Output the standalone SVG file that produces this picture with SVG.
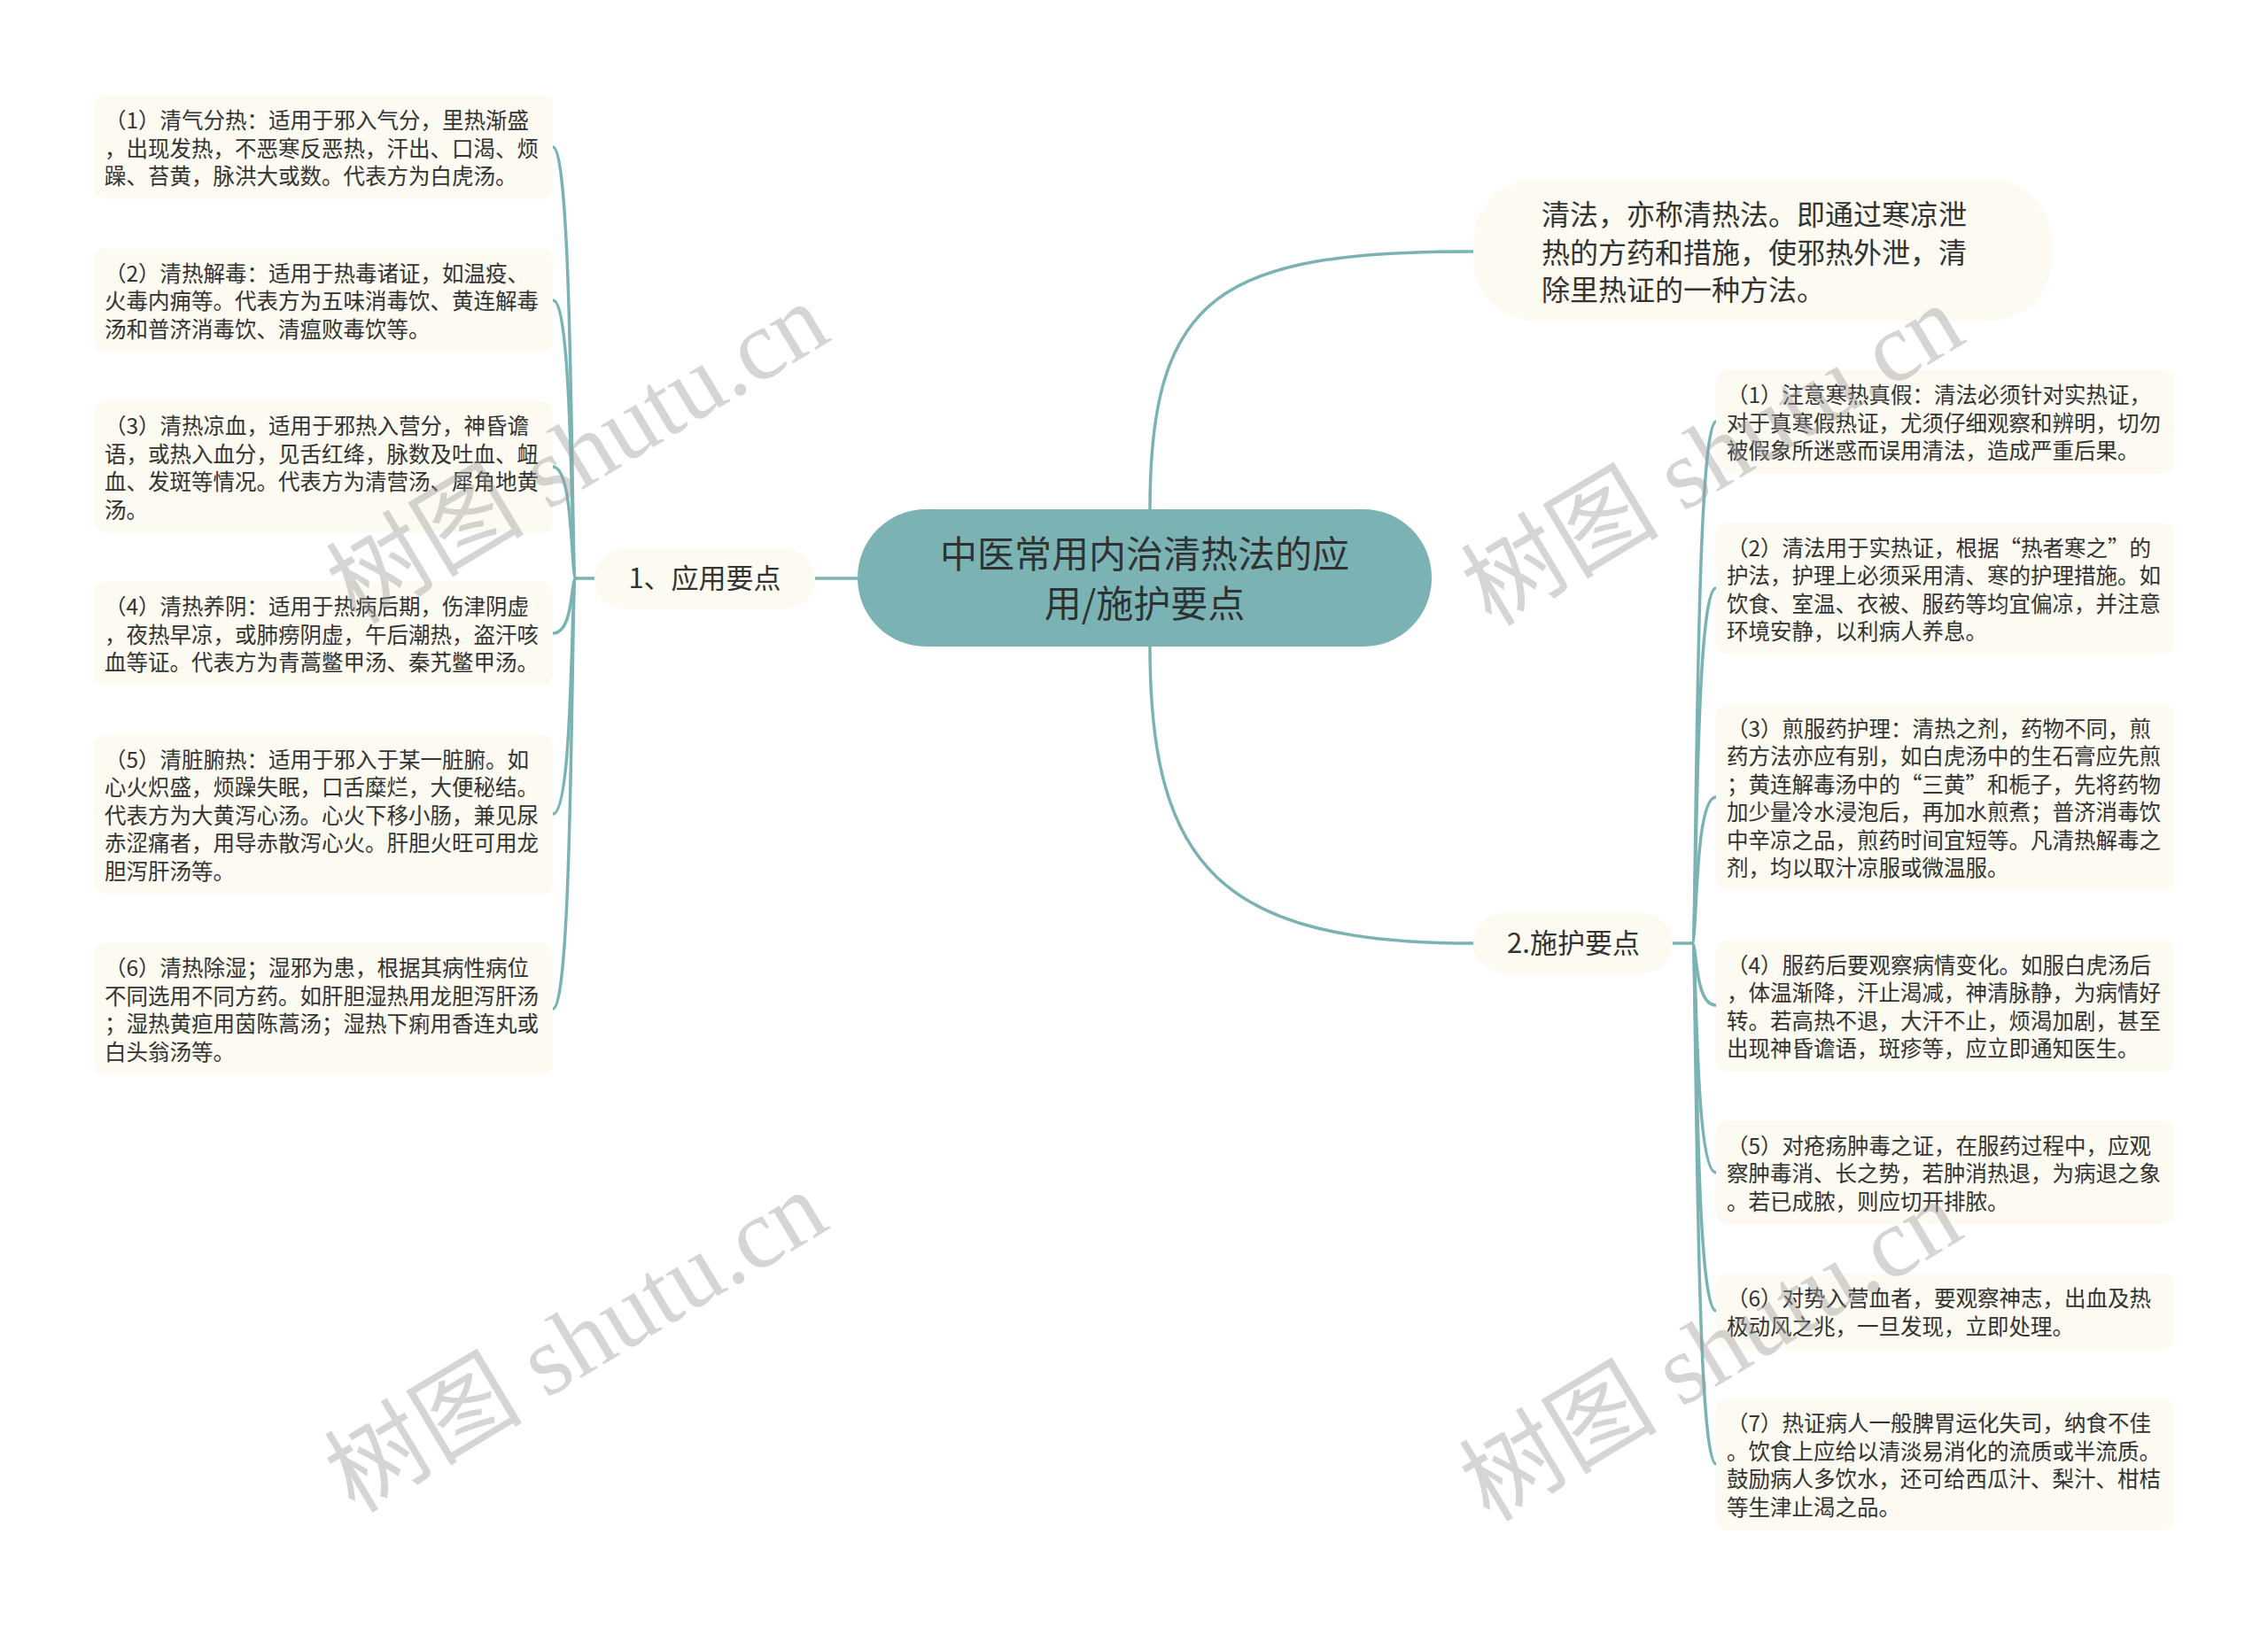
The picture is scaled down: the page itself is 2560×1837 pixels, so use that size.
<svg xmlns="http://www.w3.org/2000/svg" width="2560" height="1837" viewBox="0 0 2560 1837">
<style>
.bg{fill:#ffffff}
.box{fill:#fcfaf1}
.t{font-family:"Noto Sans CJK SC","Liberation Sans",sans-serif;font-size:24.5px;fill:#333333}
.nt{font-family:"Noto Sans CJK SC","Liberation Sans",sans-serif;font-size:31px;fill:#333333;text-anchor:middle}
.ct{font-family:"Noto Sans CJK SC","Liberation Sans",sans-serif;font-size:42px;fill:#2f3333;text-anchor:middle}
.tt{font-family:"Noto Sans CJK SC","Liberation Sans",sans-serif;font-size:32px;fill:#333333}
.ln{fill:none;stroke:#7bb3b4;stroke-width:3.5;stroke-linecap:round}
.wm{font-family:"Liberation Serif","Noto Sans CJK SC",serif;font-size:112px;fill:#9a9a9a;fill-opacity:0.42;text-anchor:middle}
</style>
<rect class="bg" x="0" y="0" width="2560" height="1837"/>

<g id="connectors">
  <path class="ln" d="M 968 653 L 920 653"/>
  <path class="ln" d="M 1298 575 C 1298 330, 1380 284, 1663 284"/>
  <path class="ln" d="M 1298 730 C 1298 980, 1380 1065, 1663 1065"/>
  <path class="ln" d="M 671 653 L 650 653"/>
  <path class="ln" d="M 650 653 C 644 653, 648 166, 624 166"/>
  <path class="ln" d="M 650 653 C 644 653, 648 339, 624 339"/>
  <path class="ln" d="M 650 653 C 644 653, 648 527, 624 527"/>
  <path class="ln" d="M 650 653 C 644 653, 648 715, 624 715"/>
  <path class="ln" d="M 650 653 C 644 653, 648 919, 624 919"/>
  <path class="ln" d="M 650 653 C 644 653, 648 1139, 624 1139"/>
  <path class="ln" d="M 1888 1065 L 1910 1065"/>
  <path class="ln" d="M 1910 1065 C 1916 1065, 1912 476, 1937 476"/>
  <path class="ln" d="M 1910 1065 C 1916 1065, 1912 664, 1937 664"/>
  <path class="ln" d="M 1910 1065 C 1916 1065, 1912 900, 1937 900"/>
  <path class="ln" d="M 1910 1065 C 1916 1065, 1912 1135, 1937 1135"/>
  <path class="ln" d="M 1910 1065 C 1916 1065, 1912 1324, 1937 1324"/>
  <path class="ln" d="M 1910 1065 C 1916 1065, 1912 1480, 1937 1480"/>
  <path class="ln" d="M 1910 1065 C 1916 1065, 1912 1653, 1937 1653"/>
</g>

<g id="center">
  <rect x="968" y="575" width="648" height="155" rx="77" fill="#7bb3b5"/>
  <text class="ct" x="1292" y="641">中医常用内治清热法的应</text>
  <text class="ct" x="1292" y="697">用/施护要点</text>
</g>

<g id="def">
  <rect class="box" x="1663" y="203" width="653" height="159" rx="70"/>
  <text class="tt" x="1740" y="253.5">清法，亦称清热法。即通过寒凉泄</text>
  <text class="tt" x="1740" y="296.5">热的方药和措施，使邪热外泄，清</text>
  <text class="tt" x="1740" y="338.5">除里热证的一种方法。</text>
</g>

<g id="n1">
  <rect class="box" x="671" y="620" width="249" height="67" rx="33"/>
  <text class="nt" x="795.5" y="664">1、应用要点</text>
</g>

<g id="n2">
  <rect class="box" x="1663" y="1031" width="225" height="68" rx="34"/>
  <text class="nt" x="1776" y="1076">2.施护要点</text>
</g>

<g id="L1">
  <rect class="box" x="106" y="108" width="518" height="116.5" rx="12"/>
  <text class="t" x="118" y="145">（1）清气分热：适用于邪入气分，里热渐盛</text>
  <text class="t" x="118" y="176.5">，出现发热，不恶寒反恶热，汗出、口渴、烦</text>
  <text class="t" x="118" y="208">躁、苔黄，脉洪大或数。代表方为白虎汤。</text>
</g>
<g id="L2">
  <rect class="box" x="106" y="280.5" width="518" height="116.5" rx="12"/>
  <text class="t" x="118" y="317.5">（2）清热解毒：适用于热毒诸证，如温疫、</text>
  <text class="t" x="118" y="349">火毒内痈等。代表方为五味消毒饮、黄连解毒</text>
  <text class="t" x="118" y="380.5">汤和普济消毒饮、清瘟败毒饮等。</text>
</g>
<g id="L3">
  <rect class="box" x="106" y="453" width="518" height="148" rx="12"/>
  <text class="t" x="118" y="490">（3）清热凉血，适用于邪热入营分，神昏谵</text>
  <text class="t" x="118" y="521.5">语，或热入血分，见舌红绛，脉数及吐血、衄</text>
  <text class="t" x="118" y="553">血、发斑等情况。代表方为清营汤、犀角地黄</text>
  <text class="t" x="118" y="584.5">汤。</text>
</g>
<g id="L4">
  <rect class="box" x="106" y="657" width="518" height="116.5" rx="12"/>
  <text class="t" x="118" y="694">（4）清热养阴：适用于热病后期，伤津阴虚</text>
  <text class="t" x="118" y="725.5">，夜热早凉，或肺痨阴虚，午后潮热，盗汗咳</text>
  <text class="t" x="118" y="757">血等证。代表方为青蒿鳖甲汤、秦艽鳖甲汤。</text>
</g>
<g id="L5">
  <rect class="box" x="106" y="829.5" width="518" height="179.5" rx="12"/>
  <text class="t" x="118" y="866.5">（5）清脏腑热：适用于邪入于某一脏腑。如</text>
  <text class="t" x="118" y="898">心火炽盛，烦躁失眠，口舌糜烂，大便秘结。</text>
  <text class="t" x="118" y="929.5">代表方为大黄泻心汤。心火下移小肠，兼见尿</text>
  <text class="t" x="118" y="961">赤涩痛者，用导赤散泻心火。肝胆火旺可用龙</text>
  <text class="t" x="118" y="992.5">胆泻肝汤等。</text>
</g>
<g id="L6">
  <rect class="box" x="106" y="1065" width="518" height="148" rx="12"/>
  <text class="t" x="118" y="1102">（6）清热除湿；湿邪为患，根据其病性病位</text>
  <text class="t" x="118" y="1133.5">不同选用不同方药。如肝胆湿热用龙胆泻肝汤</text>
  <text class="t" x="118" y="1165">；湿热黄疸用茵陈蒿汤；湿热下痢用香连丸或</text>
  <text class="t" x="118" y="1196.5">白头翁汤等。</text>
</g>

<g id="R1">
  <rect class="box" x="1937" y="418" width="517" height="116.5" rx="12"/>
  <text class="t" x="1949" y="455">（1）注意寒热真假：清法必须针对实热证，</text>
  <text class="t" x="1949" y="486.5">对于真寒假热证，尤须仔细观察和辨明，切勿</text>
  <text class="t" x="1949" y="518">被假象所迷惑而误用清法，造成严重后果。</text>
</g>
<g id="R2">
  <rect class="box" x="1937" y="590.5" width="517" height="148" rx="12"/>
  <text class="t" x="1949" y="627.5">（2）清法用于实热证，根据“热者寒之”的</text>
  <text class="t" x="1949" y="659">护法，护理上必须采用清、寒的护理措施。如</text>
  <text class="t" x="1949" y="690.5">饮食、室温、衣被、服药等均宜偏凉，并注意</text>
  <text class="t" x="1949" y="722">环境安静，以利病人养息。</text>
</g>
<g id="R3">
  <rect class="box" x="1937" y="794.5" width="517" height="211" rx="12"/>
  <text class="t" x="1949" y="831.5">（3）煎服药护理：清热之剂，药物不同，煎</text>
  <text class="t" x="1949" y="863">药方法亦应有别，如白虎汤中的生石膏应先煎</text>
  <text class="t" x="1949" y="894.5">；黄连解毒汤中的“三黄”和栀子，先将药物</text>
  <text class="t" x="1949" y="926">加少量冷水浸泡后，再加水煎煮；普济消毒饮</text>
  <text class="t" x="1949" y="957.5">中辛凉之品，煎药时间宜短等。凡清热解毒之</text>
  <text class="t" x="1949" y="989">剂，均以取汁凉服或微温服。</text>
</g>
<g id="R4">
  <rect class="box" x="1937" y="1061.5" width="517" height="148" rx="12"/>
  <text class="t" x="1949" y="1098.5">（4）服药后要观察病情变化。如服白虎汤后</text>
  <text class="t" x="1949" y="1130">，体温渐降，汗止渴减，神清脉静，为病情好</text>
  <text class="t" x="1949" y="1161.5">转。若高热不退，大汗不止，烦渴加剧，甚至</text>
  <text class="t" x="1949" y="1193">出现神昏谵语，斑疹等，应立即通知医生。</text>
</g>
<g id="R5">
  <rect class="box" x="1937" y="1265.5" width="517" height="116.5" rx="12"/>
  <text class="t" x="1949" y="1302.5">（5）对疮疡肿毒之证，在服药过程中，应观</text>
  <text class="t" x="1949" y="1334">察肿毒消、长之势，若肿消热退，为病退之象</text>
  <text class="t" x="1949" y="1365.5">。若已成脓，则应切开排脓。</text>
</g>
<g id="R6">
  <rect class="box" x="1937" y="1438" width="517" height="85" rx="12"/>
  <text class="t" x="1949" y="1475">（6）对势入营血者，要观察神志，出血及热</text>
  <text class="t" x="1949" y="1506.5">极动风之兆，一旦发现，立即处理。</text>
</g>
<g id="R7">
  <rect class="box" x="1937" y="1579" width="517" height="148" rx="12"/>
  <text class="t" x="1949" y="1616">（7）热证病人一般脾胃运化失司，纳食不佳</text>
  <text class="t" x="1949" y="1647.5">。饮食上应给以清淡易消化的流质或半流质。</text>
  <text class="t" x="1949" y="1679">鼓励病人多饮水，还可给西瓜汁、梨汁、柑桔</text>
  <text class="t" x="1949" y="1710.5">等生津止渴之品。</text>
</g>

<g id="watermarks">
  <text class="wm" transform="translate(652 512) rotate(-31)" x="0" y="38">树图 shutu.cn</text>
  <text class="wm" transform="translate(650 1515) rotate(-31)" x="0" y="38">树图 shutu.cn</text>
  <text class="wm" transform="translate(1933 514) rotate(-31)" x="0" y="38">树图 shutu.cn</text>
  <text class="wm" transform="translate(1931 1525) rotate(-31)" x="0" y="38">树图 shutu.cn</text>
</g>
</svg>
